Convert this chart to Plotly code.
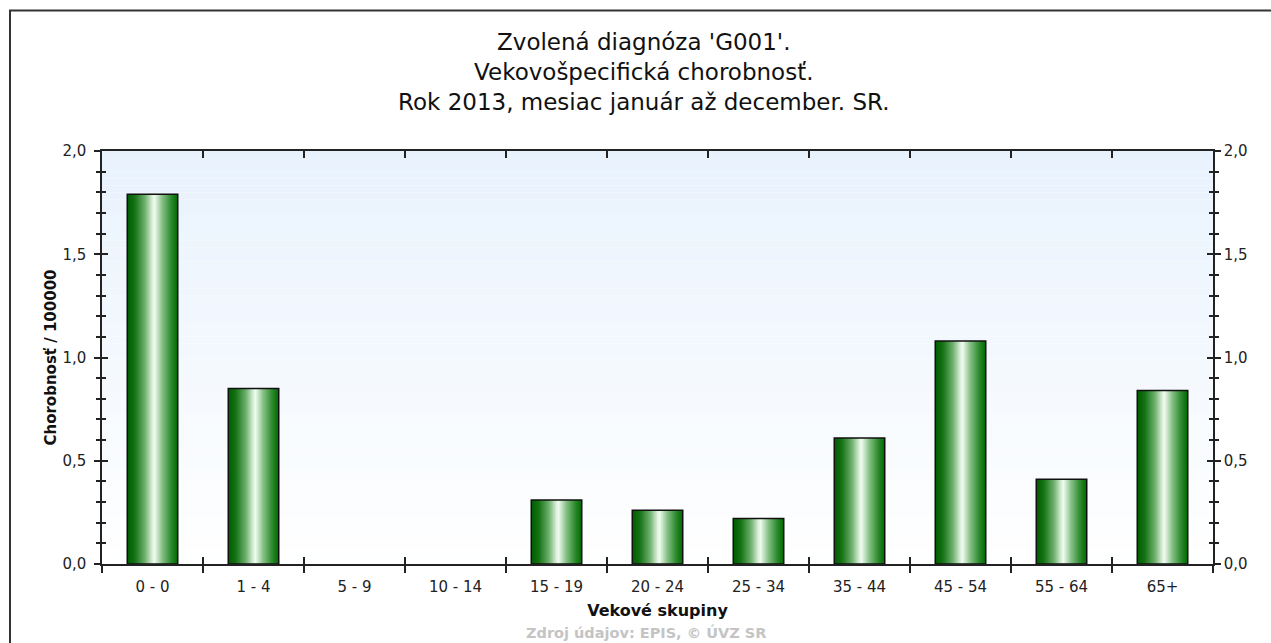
import plotly.graph_objects as go

# ---- data ----
categories = ["0 - 0", "1 - 4", "5 - 9", "10 - 14", "15 - 19", "20 - 24",
              "25 - 34", "35 - 44", "45 - 54", "55 - 64", "65+"]
values = [1.79, 0.85, 0, 0, 0.31, 0.26, 0.22, 0.61, 1.08, 0.41, 0.84]

title_lines = ["Zvolená diagnóza 'G001'.",
               "Vekovošpecifická chorobnosť.",
               "Rok 2013, mesiac január až december. SR."]
x_title = "Vekové skupiny"
y_title = "Chorobnosť / 100000"
source_text = "Zdroj údajov: EPIS, © ÚVZ SR"

# ---- style / geometry (window pixel coords; body margin removed) ----
W, H = 1271, 643
PL, PR, PT, PB = 102, 1213, 151, 564          # plot area in window pixels
ML, MT = PL, PT
MR, MB = W - PR, H - PB
pw, ph = PR - PL, PB - PT


def px(wx):
    return (wx - PL) / pw


def py(wy):
    return (PB - wy) / ph


FONT = "DejaVu Sans"
AXC = "#222222"

grad_stops = [(0.0, (0, 92, 0)), (0.15, (20, 115, 20)), (0.35, (110, 175, 110)),
              (0.53, (245, 255, 245)), (0.70, (130, 190, 130)), (0.88, (40, 135, 40)),
              (1.0, (0, 105, 0))]


def grad(t):
    for (a, ca), (b, cb) in zip(grad_stops[:-1], grad_stops[1:]):
        if a <= t <= b:
            f = (t - a) / (b - a)
            c = [round(ca[i] + (cb[i] - ca[i]) * f) for i in range(3)]
            return "rgb(%d,%d,%d)" % tuple(c)
    return "rgb(0,100,0)"


fig = go.Figure()

shown = [v if v > 0 else None for v in values]
BW = 0.5
N = 25
sw = BW / N
for i in range(N):
    fig.add_trace(go.Bar(x=categories, y=shown, width=BW - i * sw, offset=-BW / 2 + i * sw,
                         marker=dict(color=grad((i + 0.5) / N), line=dict(width=0)),
                         hoverinfo="skip", showlegend=False))
fig.add_trace(go.Bar(x=categories, y=shown, width=BW, offset=-BW / 2,
                     marker=dict(color="rgba(0,0,0,0)", line=dict(color="#111111", width=1.5)),
                     showlegend=False, hovertemplate="%{x}: %{y}<extra></extra>"))

# invisible helper traces to anchor overlay axes
for xa, ya in [("x2", "y"), ("x3", "y"), ("x", "y2"), ("x", "y3"), ("x", "y4")]:
    fig.add_trace(go.Scatter(x=categories, y=values, xaxis=xa, yaxis=ya, mode="markers",
                             marker=dict(opacity=0), hoverinfo="skip", showlegend=False))

# background gradient bands
NB = 60
top = (232, 242, 253)
shapes = []
for k in range(NB):
    f = (k + 0.5) / NB
    c = tuple(round(255 + (top[i] - 255) * f) for i in range(3))
    shapes.append(dict(type="rect", xref="paper", yref="paper", x0=0, x1=1,
                       y0=k / NB, y1=(k + 1) / NB, layer="below",
                       fillcolor="rgb(%d,%d,%d)" % c, line=dict(width=0)))
# outer frame: top and left edges only (the rest runs off the page)
shapes.append(dict(type="line", xref="paper", yref="paper",
                   x0=px(9), x1=px(1400), y0=py(10.5), y1=py(10.5),
                   line=dict(color="#333333", width=2), layer="above"))
shapes.append(dict(type="line", xref="paper", yref="paper",
                   x0=px(10), x1=px(10), y0=py(10), y1=py(800),
                   line=dict(color="#333333", width=2), layer="above"))

tickfont = dict(family=FONT, size=15, color=AXC)
common_x = dict(type="category", categoryorder="array", categoryarray=categories,
                range=[-0.5, len(categories) - 0.5], tickson="boundaries",
                showgrid=False, zeroline=False, tickcolor=AXC, tickwidth=1.5,
                linecolor=AXC, linewidth=1.5, fixedrange=True)
common_y = dict(range=[0, 2], tick0=0, dtick=0.5, tickformat=".1f", showgrid=False,
                zeroline=False, tickcolor=AXC, tickwidth=1.5, linecolor=AXC, linewidth=1.5,
                fixedrange=True)

fig.update_layout(
    width=W, height=H, autosize=False,
    margin=dict(l=ML, r=MR, t=MT, b=MB, pad=0),
    paper_bgcolor="white", plot_bgcolor="white",
    barmode="overlay", separators=", ",
    font=dict(family=FONT, color=AXC),
    xaxis=dict(**common_x, ticks="outside", ticklen=7, showline=True, anchor="y",
               tickfont=tickfont, ticklabelstandoff=8,
               title=dict(text=x_title, standoff=10,
                          font=dict(family=FONT, size=16, weight="bold", color="#111111"))),
    xaxis2=dict(**common_x, overlaying="x", side="bottom", anchor="y", ticks="inside",
                ticklen=7, showline=False, showticklabels=False),
    xaxis3=dict(**common_x, overlaying="x", side="top", anchor="y", ticks="inside",
                ticklen=7, showline=True, showticklabels=False),
    yaxis=dict(**common_y, side="left", anchor="x", ticks="outside", ticklen=6, showline=True,
               tickfont=tickfont, ticklabelstandoff=5,
               minor=dict(ticks="outside", dtick=0.1, ticklen=4, tickcolor=AXC, tickwidth=1.5),
               title=dict(text=y_title, standoff=2,
                          font=dict(family=FONT, size=15, weight="bold", color="#111111"))),
    yaxis2=dict(**common_y, overlaying="y", side="left", anchor="x", ticks="inside", ticklen=6,
                showline=False, showticklabels=False,
                minor=dict(ticks="inside", dtick=0.1, ticklen=4, tickcolor=AXC, tickwidth=1.5)),
    yaxis3=dict(**common_y, overlaying="y", side="right", anchor="x", ticks="outside", ticklen=6,
                showline=True, tickfont=tickfont, ticklabelstandoff=0,
                minor=dict(ticks="outside", dtick=0.1, ticklen=4, tickcolor=AXC, tickwidth=1.5)),
    yaxis4=dict(**common_y, overlaying="y", side="right", anchor="x", ticks="inside", ticklen=6,
                showline=False, showticklabels=False,
                minor=dict(ticks="inside", dtick=0.1, ticklen=4, tickcolor=AXC, tickwidth=1.5)),
    shapes=shapes,
    annotations=[
        dict(text="<br>".join(title_lines), xref="paper", yref="paper",
             x=px(644), y=py(72), xanchor="center", yanchor="middle", align="center",
             showarrow=False, font=dict(family=FONT, size=23, color="#111111")),
        dict(text=source_text, xref="paper", yref="paper",
             x=px(646), y=py(632), xanchor="center", yanchor="middle",
             showarrow=False,
             font=dict(family=FONT, size=14.5, weight="bold", color="#c4c4c4")),
    ],
)

fig.write_html("out.html",
               config={"displayModeBar": False},
               post_script="document.body.style.margin='0';"
                           "document.body.style.overflow='hidden';"
                           "document.documentElement.style.overflow='hidden';")
